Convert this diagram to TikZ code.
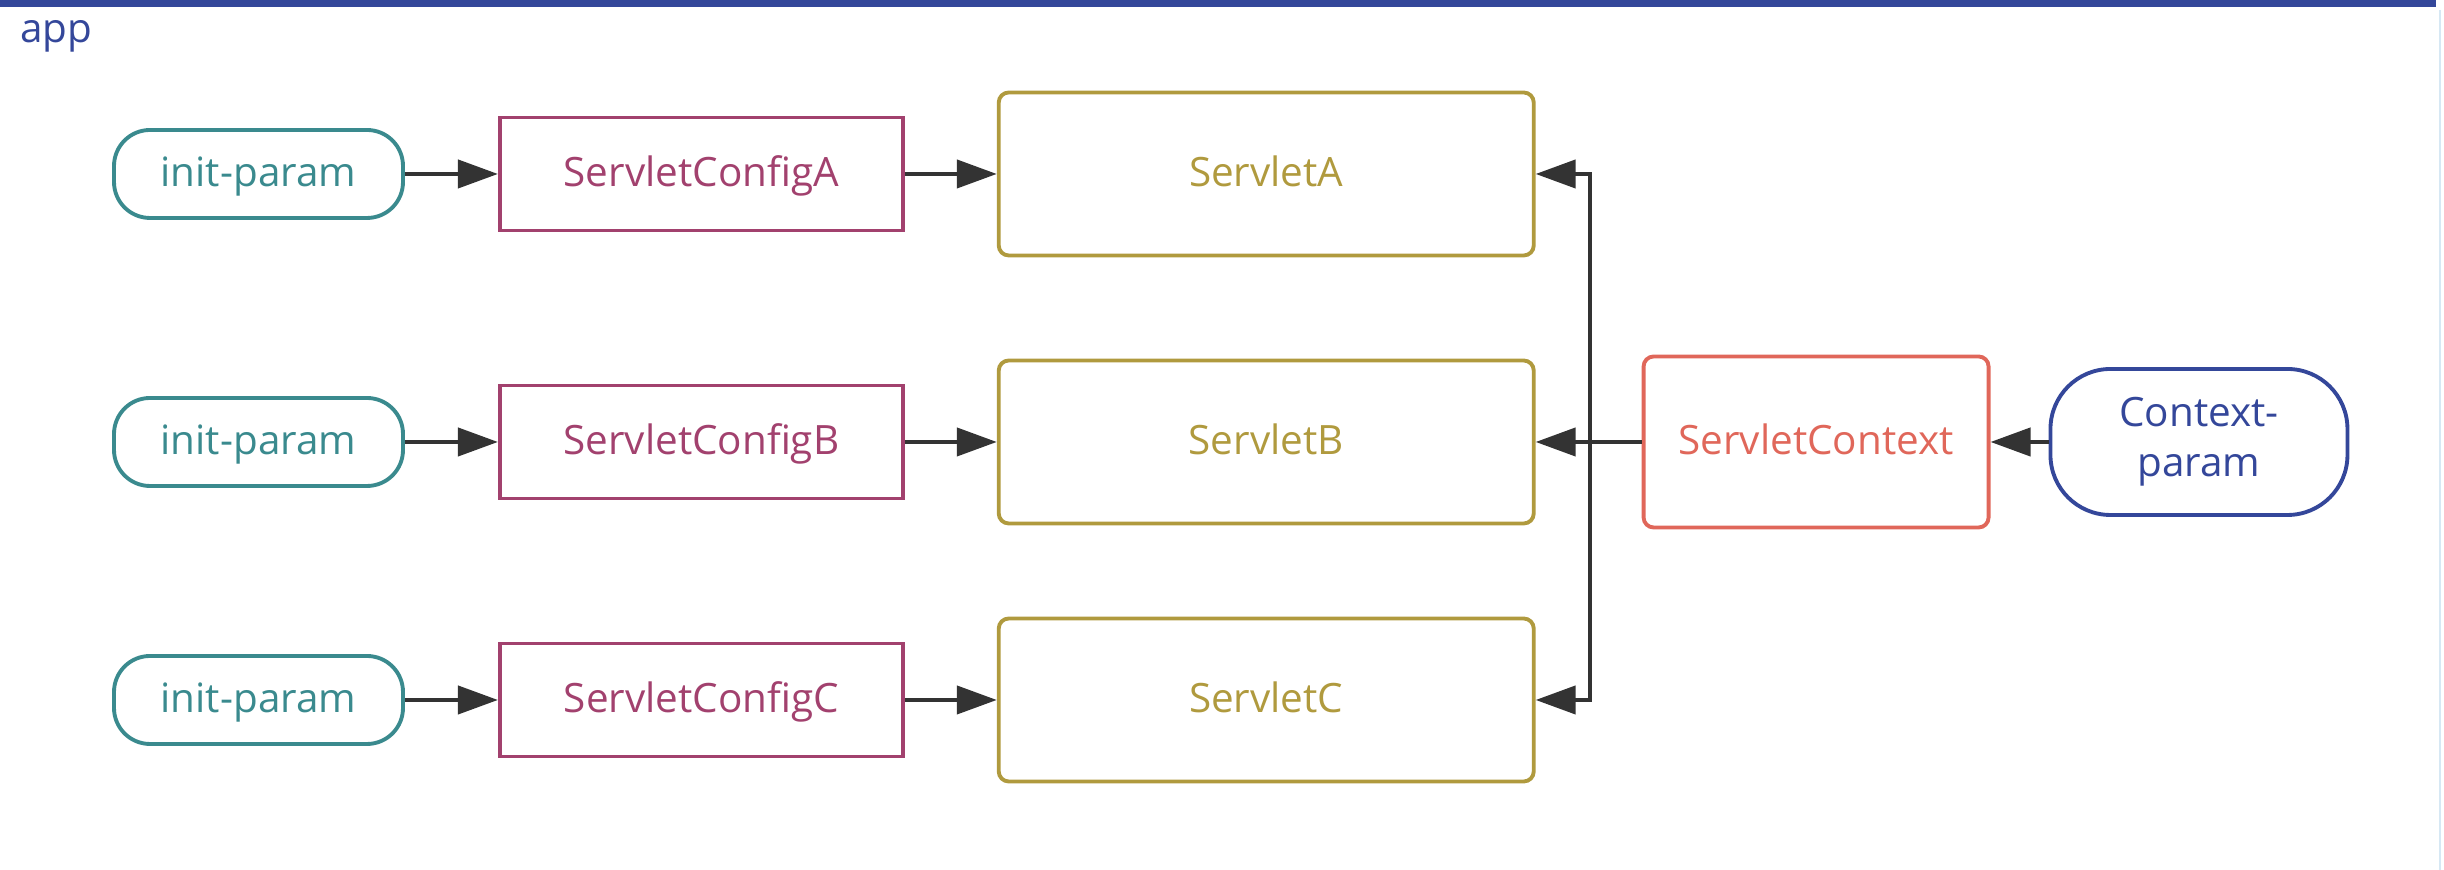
\documentclass[tikz,border=0pt]{standalone}
\usepackage{fontspec}
\setmainfont{Open Sans}
\usetikzlibrary{positioning,arrows.meta}

\definecolor{appblue}{HTML}{34479A}
\definecolor{edgeblue}{HTML}{D6E8F4}
\definecolor{initteal}{HTML}{3A8A8E}
\definecolor{cfgplum}{HTML}{A2416E}
\definecolor{srvgold}{HTML}{B09A3E}
\definecolor{ctxred}{HTML}{E0675A}
\definecolor{arrowgray}{HTML}{333333}

\begin{document}
\begin{tikzpicture}[node distance=0.93cm,>={Triangle[length=0.40cm,width=0.28cm]},
  every node/.style={font=\fontsize{11.5}{14.2}\selectfont},
  boxtext/.style={text height=0.75em, text depth=0.05em},
  initbox/.style={boxtext, draw=initteal, text=initteal, line width=1.1pt, rounded corners=0.36cm, minimum width=2.89cm, minimum height=0.88cm},
  cfgbox/.style={boxtext, draw=cfgplum, text=cfgplum, line width=1.1pt, minimum width=4.03cm, minimum height=1.13cm},
  srvbox/.style={boxtext, draw=srvgold, text=srvgold, line width=1.1pt, rounded corners=0.1cm, minimum width=5.35cm, minimum height=1.63cm},
  link/.style={->, draw=arrowgray, line width=1.2pt}]
\useasboundingbox (0,0) rectangle (24.44,8.70);
% frame of the app
\draw[appblue, line width=2pt] (0,8.66) -- (24.36,8.66);
\draw[edgeblue, line width=0.6pt] (24.40,8.60) -- (24.40,0);
\node (app) [text=appblue, anchor=north west] at (0.08,8.62) {app};

% three servlets with their configs
\node (ipa) [initbox] at (2.585,6.96) {init-param};
\node (cfga) [cfgbox, right=of ipa] {ServletConfigA};
\node (sa) [srvbox, right=0.92cm of cfga] {ServletA};

\node (ipb) [initbox] at (2.585,4.28) {init-param};
\node (cfgb) [cfgbox, right=of ipb] {ServletConfigB};
\node (sb) [srvbox, right=0.92cm of cfgb] {ServletB};

\node (ipc) [initbox] at (2.585,1.70) {init-param};
\node (cfgc) [cfgbox, right=of ipc] {ServletConfigC};
\node (sc) [srvbox, right=0.92cm of cfgc] {ServletC};

% shared context
\node (ctx) [boxtext, draw=ctxred, text=ctxred, line width=1.1pt, rounded corners=0.1cm, minimum width=3.45cm, minimum height=1.71cm, right=1.06cm of sb] {ServletContext};
\node (cp) [draw=appblue, text=appblue, line width=1.1pt, rounded corners=0.6cm, minimum width=2.97cm, minimum height=1.46cm, align=center, right=0.58cm of ctx] {Context-\\param};

\coordinate (bus) at (15.9,4.28);

\draw[link] (ipa) -- (cfga);
\draw[link] (cfga) -- (sa);
\draw[link] (ipb) -- (cfgb);
\draw[link] (cfgb) -- (sb);
\draw[link] (ipc) -- (cfgc);
\draw[link] (cfgc) -- (sc);

\draw[link] (cp) -- (ctx);
\draw[link] (ctx) -- (sb);
\draw[link] (bus) |- (sa);
\draw[link] (bus) |- (sc);
\end{tikzpicture}
\end{document}
